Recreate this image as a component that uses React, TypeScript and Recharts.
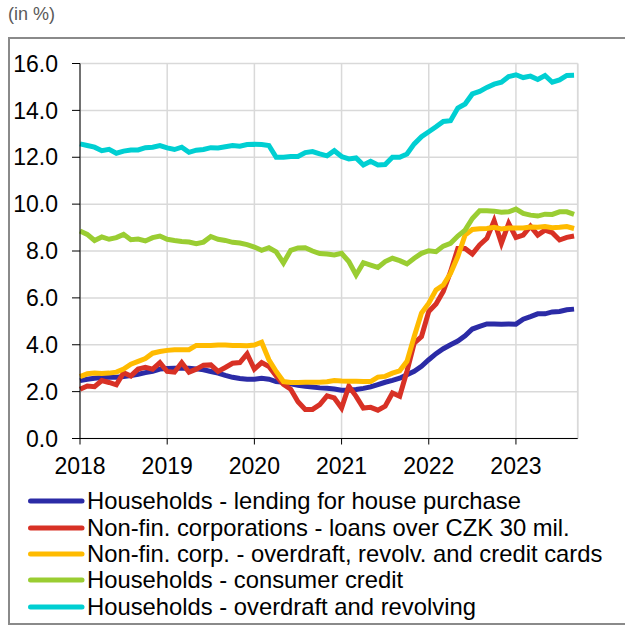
import { CartesianGrid, Line, LineChart, ReferenceLine, XAxis, YAxis } from "recharts";

// monthly rates, Jan 2018 - Sep 2023
const yearLabels = ["2018", "2019", "2020", "2021", "2022", "2023"];
const yTicks = [0, 2, 4, 6, 8, 10, 12, 14, 16];

const housePurchase = [
  2.47, 2.53, 2.57, 2.6, 2.61, 2.61, 2.64, 2.69, 2.74, 2.81, 2.87, 2.96,
  2.99, 3.0, 3.0, 3.0, 2.97, 2.93, 2.86, 2.79, 2.69, 2.61, 2.56, 2.53,
  2.53, 2.57, 2.53, 2.43, 2.4, 2.33, 2.27, 2.23, 2.2, 2.16, 2.14, 2.11,
  2.06, 2.06, 2.09, 2.14, 2.2, 2.3, 2.4, 2.48, 2.57, 2.72, 2.87, 3.08,
  3.36, 3.62, 3.83, 4.0, 4.16, 4.38, 4.67, 4.78, 4.89, 4.89, 4.88, 4.89,
  4.88, 5.09, 5.2, 5.32, 5.32, 5.4, 5.42, 5.49, 5.52,
];
const corpLoans = [
  2.1, 2.24, 2.21, 2.47, 2.39, 2.29, 2.81, 2.67, 2.96, 3.04, 2.96, 3.24,
  2.86, 2.83, 3.24, 2.83, 2.96, 3.13, 3.14, 2.86, 3.03, 3.21, 3.24, 3.61,
  2.96, 3.24, 3.07, 2.67, 2.31, 2.1, 1.57, 1.24, 1.24, 1.45, 1.82, 1.73,
  1.3, 2.23, 1.8, 1.3, 1.33, 1.21, 1.38, 1.94, 1.8, 2.87, 4.07, 4.35,
  5.42, 5.74, 6.27, 7.12, 8.11, 8.11, 7.87, 8.26, 8.54, 9.29, 8.33, 9.18,
  8.58, 8.68, 9.06, 8.68, 8.89, 8.78, 8.47, 8.58, 8.64,
];
const corpOverdraft = [
  2.64, 2.76, 2.79, 2.77, 2.79, 2.83, 2.96, 3.17, 3.29, 3.41, 3.64, 3.71,
  3.76, 3.79, 3.79, 3.79, 3.97, 3.97, 3.97, 3.99, 3.99, 3.97, 3.97, 3.96,
  3.99, 4.11, 3.36, 2.86, 2.43, 2.39, 2.39, 2.4, 2.4, 2.4, 2.42, 2.47,
  2.45, 2.44, 2.44, 2.43, 2.43, 2.62, 2.65, 2.79, 2.89, 3.29, 4.35, 5.35,
  5.77, 6.34, 6.55, 7.05, 7.76, 8.68, 8.92, 8.95, 8.96, 9.01, 8.94, 8.98,
  8.98, 8.98, 9.02, 9.01, 9.04, 8.99, 9.01, 9.04, 8.96,
];
const consumerCredit = [
  8.85, 8.71, 8.45, 8.6, 8.5, 8.57, 8.71, 8.48, 8.51, 8.43, 8.57, 8.64,
  8.5, 8.45, 8.41, 8.38, 8.31, 8.38, 8.62, 8.5, 8.45, 8.37, 8.34, 8.27,
  8.17, 8.03, 8.14, 7.96, 7.49, 8.03, 8.13, 8.14, 8.0, 7.89, 7.87, 7.83,
  7.9, 7.55, 6.98, 7.5, 7.4, 7.3, 7.55, 7.69, 7.59, 7.45, 7.69, 7.9,
  8.01, 7.97, 8.21, 8.33, 8.64, 8.89, 9.39, 9.72, 9.72, 9.7, 9.65, 9.67,
  9.79, 9.6, 9.53, 9.49, 9.57, 9.56, 9.67, 9.67, 9.56,
];
const householdOverdraft = [
  12.57, 12.5, 12.43, 12.28, 12.34, 12.17, 12.26, 12.31, 12.31, 12.41, 12.43, 12.5,
  12.4, 12.33, 12.43, 12.21, 12.3, 12.33, 12.41, 12.4, 12.45, 12.5, 12.47, 12.54,
  12.55, 12.54, 12.5, 12.0, 12.0, 12.03, 12.03, 12.2, 12.24, 12.14, 12.06, 12.28,
  12.03, 11.93, 11.97, 11.67, 11.83, 11.67, 11.69, 12.0, 12.0, 12.14, 12.57, 12.88,
  13.09, 13.3, 13.53, 13.56, 14.1, 14.27, 14.7, 14.81, 14.98, 15.12, 15.2, 15.44,
  15.52, 15.4, 15.46, 15.32, 15.49, 15.2, 15.3, 15.49, 15.5,
];

const series = [
  { key: "house", name: "Households - lending for house purchase", color: "#2b2ba6", values: housePurchase },
  { key: "loans", name: "Non-fin. corporations - loans over CZK 30 mil.", color: "#d83125", values: corpLoans },
  { key: "corpOd", name: "Non-fin. corp. - overdraft, revolv. and credit cards", color: "#ffbb00", values: corpOverdraft },
  { key: "consumer", name: "Households - consumer credit", color: "#9acd32", values: consumerCredit },
  { key: "hhOd", name: "Households - overdraft and revolving", color: "#00cfd2", values: householdOverdraft },
];

const data = housePurchase.map((_, i) => {
  const row: Record<string, number> = { m: i };
  series.forEach((s) => (row[s.key] = s.values[i]));
  return row;
});

const xMax = 68.5;
const font = "'Liberation Sans', Arial, sans-serif";
const grid = "#d9d9d9";

export default function App() {
  return (
    <div style={{ position: "fixed", left: 0, top: 0, width: 625, height: 626, fontFamily: font, overflow: "hidden", background: "#fff" }}>
      <div style={{ position: "absolute", left: 8, top: 4, fontSize: 18, color: "#595959" }}>(in %)</div>
      {/* frame runs off the right edge, as in the source */}
      <div style={{ position: "absolute", left: 8, top: 37, width: 720, height: 588, borderTop: "2px solid #8a8a8a", borderLeft: "2px solid #8a8a8a", borderBottom: "2px solid #8a8a8a", boxSizing: "border-box" }} />
      <div style={{ position: "absolute", left: 0, top: 0 }}>
        <LineChart width={625} height={490} data={data} margin={{ top: 63.5, right: 47.3, bottom: 11.5, left: 0 }}>
          <CartesianGrid stroke={grid} strokeWidth={1.5} />
          <ReferenceLine x={xMax} stroke={grid} strokeWidth={1.5} />
          <XAxis
            dataKey="m"
            type="number"
            domain={[0, xMax]}
            ticks={[0, 12, 24, 36, 48, 60]}
            tickFormatter={(v) => yearLabels[v / 12]}
            height={40}
            tickSize={6}
            tickMargin={13}
            stroke="#000"
            tick={{ fill: "#000", fontSize: 23, fontFamily: font }}
          />
          <YAxis
            domain={[0, 16]}
            ticks={yTicks}
            tickFormatter={(v) => v.toFixed(1)}
            width={80}
            tickSize={8}
            tickMargin={14}
            stroke="#000"
            tick={{ fill: "#000", fontSize: 23, fontFamily: font }}
          />
          {series.map((s) => (
            <Line
              key={s.key}
              dataKey={s.key}
              stroke={s.color}
              strokeWidth={5}
              dot={false}
              type="linear"
              isAnimationActive={false}
            />
          ))}
        </LineChart>
      </div>
      <div style={{ position: "absolute", left: 28, top: 488 }}>
        {series.map((s) => (
          <div key={s.key} style={{ display: "flex", alignItems: "center", height: 26.4, fontSize: 23.8, color: "#000", whiteSpace: "nowrap" }}>
            <svg width={59} height={10} style={{ flex: "none" }}>
              <line x1={2.5} y1={5} x2={54} y2={5} stroke={s.color} strokeWidth={5} strokeLinecap="round" />
            </svg>
            <span>{s.name}</span>
          </div>
        ))}
      </div>
    </div>
  );
}
